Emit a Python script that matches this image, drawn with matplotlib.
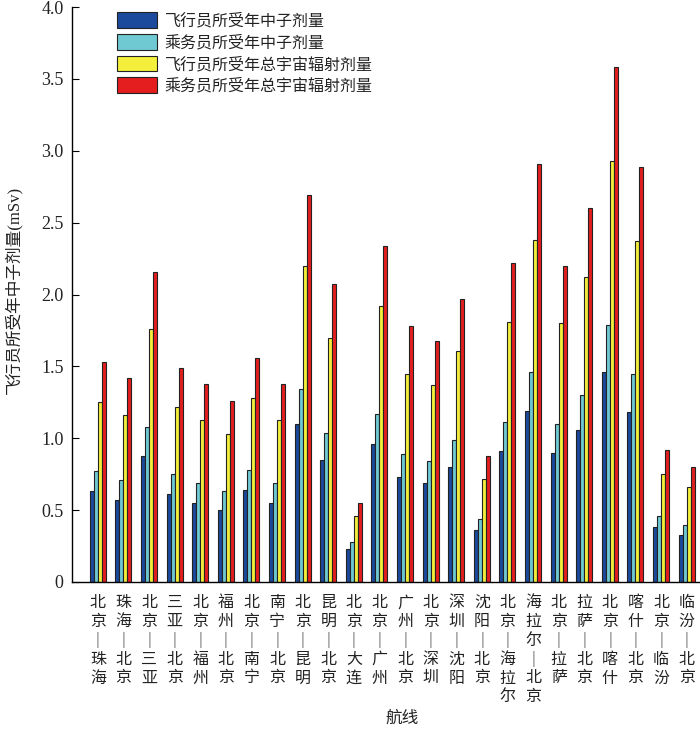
import matplotlib
matplotlib.use("Agg")
import matplotlib.pyplot as plt
import numpy as np

plt.rcParams['font.family'] = ['Noto Sans CJK SC', 'DejaVu Sans']

routes = ["北京—珠海", "珠海—北京", "北京—三亚", "三亚—北京", "北京—福州", "福州—北京",
          "北京—南宁", "南宁—北京", "北京—昆明", "昆明—北京", "北京—大连", "北京—广州",
          "广州—北京", "北京—深圳", "深圳—沈阳", "沈阳—北京", "北京—海拉尔", "海拉尔—北京",
          "北京—拉萨", "拉萨—北京", "北京—喀什", "喀什—北京", "北京—临汾", "临汾—北京"]

pilot_neutron = [0.63, 0.57, 0.88, 0.61, 0.55, 0.50, 0.64, 0.55, 1.10, 0.85, 0.23, 0.96,
                 0.73, 0.69, 0.80, 0.36, 0.91, 1.19, 0.90, 1.06, 1.46, 1.18, 0.38, 0.33]
crew_neutron = [0.77, 0.71, 1.08, 0.75, 0.69, 0.63, 0.78, 0.69, 1.34, 1.04, 0.28, 1.17,
                0.89, 0.84, 0.99, 0.44, 1.11, 1.46, 1.10, 1.30, 1.79, 1.45, 0.46, 0.40]
pilot_total = [1.25, 1.16, 1.76, 1.22, 1.13, 1.03, 1.28, 1.13, 2.20, 1.70, 0.46, 1.92,
               1.45, 1.37, 1.61, 0.72, 1.81, 2.38, 1.80, 2.12, 2.93, 2.37, 0.75, 0.66]
crew_total = [1.53, 1.42, 2.16, 1.49, 1.38, 1.26, 1.56, 1.38, 2.69, 2.07, 0.55, 2.34,
              1.78, 1.68, 1.97, 0.88, 2.22, 2.91, 2.20, 2.60, 3.58, 2.89, 0.92, 0.80]

series_labels = ["飞行员所受年中子剂量", "乘务员所受年中子剂量",
                 "飞行员所受年总宇宙辐射剂量", "乘务员所受年总宇宙辐射剂量"]
colors = ["#1b4a9c", "#6fc9d3", "#f4ef3a", "#e41e1e"]

fig = plt.figure(figsize=(7.0, 7.32), dpi=100)
ax = fig.add_axes([72/700, 150/732, 628/700, 575/732])

x = np.arange(len(routes))
w = 0.156
series = [pilot_neutron, crew_neutron, pilot_total, crew_total]
for i, (vals, c, lab) in enumerate(zip(series, colors, series_labels)):
    ax.bar(x + (i - 1.5) * w, vals, width=w, color=c, edgecolor="#222222",
           linewidth=0.8, label=lab)

ax.set_xlim(-1.01, 23.52)
ax.set_ylim(0, 4.0)
yt = np.arange(0, 4.01, 0.5)
ax.set_yticks(yt)
ax.set_yticklabels(["0"] + [f"{v:.1f}" for v in yt[1:]])
for lbl in ax.get_yticklabels():
    lbl.set_fontfamily("Liberation Serif")
    lbl.set_fontsize(13)
    lbl.set_color("#222222")
ax.tick_params(axis='y', direction='in', length=5, width=0.8, pad=6)
ax.set_xticks([])
for s in ["top", "right"]:
    ax.spines[s].set_visible(False)
ax.spines["left"].set_linewidth(1.0)
ax.spines["bottom"].set_linewidth(1.0)

# vertical route labels
for xi, r in zip(x, routes):
    a, b = r.split("—")
    txt = "\n".join(list(a) + ["│"] + list(b))
    ax.text(xi, -0.085, txt, ha="center", va="top", fontsize=11.5,
            linespacing=1.14, color="#222222", transform=ax.transData,
            family=["Noto Sans CJK SC", "DejaVu Sans"])

fig.text(402/700, 1 - 718/732, "航线", ha="center", va="center", fontsize=12, color="#222222")
fig.text(13/700, 1 - 290/732, "飞行员所受年中子剂量(mSv)", rotation=90, ha="center",
         va="center", fontsize=12, color="#222222",
         family=["Liberation Serif", "Noto Sans CJK SC"])

leg = ax.legend(loc="upper left", bbox_to_anchor=(117/700, 1 - 12/732),
                bbox_transform=fig.transFigure, frameon=False, fontsize=11.5,
                handlelength=2.5, handleheight=1.15, labelspacing=0.28,
                handletextpad=0.5, borderpad=0, borderaxespad=0)
for t in leg.get_texts():
    t.set_color("#222222")

fig.savefig("out.png", dpi=100)
